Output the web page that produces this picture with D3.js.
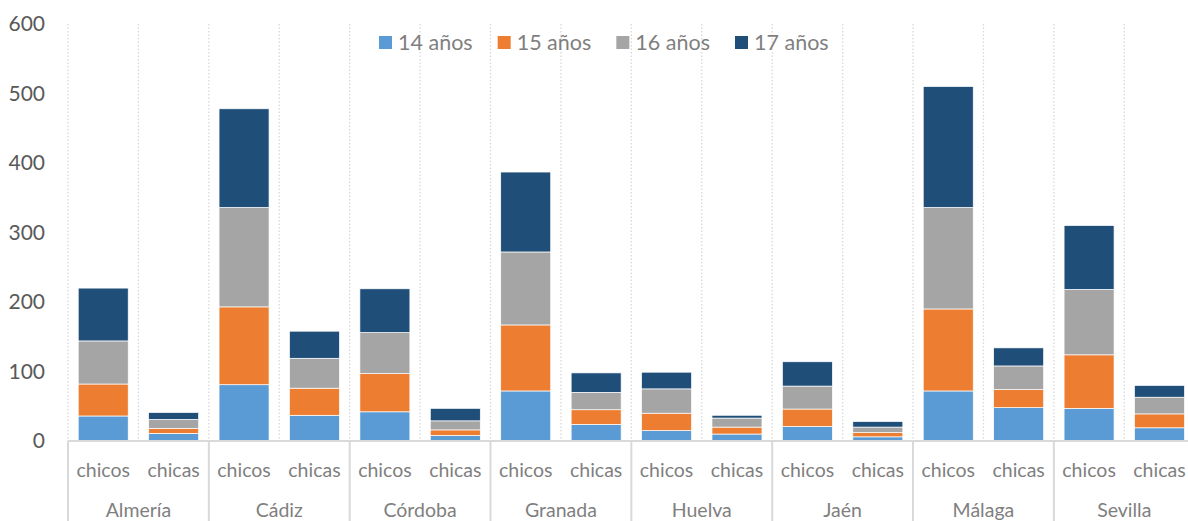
<!DOCTYPE html>
<html>
<head>
<meta charset="utf-8">
<script src="https://cdn.jsdelivr.net/npm/d3@7"></script>
<style>
  body { margin: 0; background: #fff; }
  svg { display: block; overflow: hidden; }
</style>
</head>
<body>
<div id="chart"></div>
<script>
// Data
const regions = ['Almería', 'Cádiz', 'Córdoba', 'Granada', 'Huelva', 'Jaén', 'Málaga', 'Sevilla'];
const sexes = ['chicos', 'chicas'];
const ages = ['14 años', '15 años', '16 años', '17 años'];
const yTicks = [0, 100, 200, 300, 400, 500, 600];

// one value per region x sex (chicos, chicas), in region order
const age14 = [36, 11, 81, 37, 42, 8, 72, 24, 15, 10, 21, 6, 72, 48, 47, 19];
const age15 = [46, 7, 112, 39, 55, 8, 95, 21, 25, 10, 25, 6, 118, 26, 77, 20];
const age16 = [62, 13, 143, 43, 59, 13, 105, 25, 35, 13, 33, 8, 146, 34, 94, 24];
const age17 = [76, 10, 142, 39, 63, 18, 115, 28, 24, 4, 35, 8, 174, 26, 92, 17];

const colors = ['#5B9BD5', '#ED7D31', '#A5A5A5', '#1F4E79'];

const W = 1188, H = 521;
const font = 'Lato, "Open Sans", sans-serif';

const svg = d3.select('#chart').append('svg')
    .attr('width', W).attr('height', H);

// build rows for the stack
const slots = [];
regions.forEach(r => sexes.forEach(s => slots.push(r + '|' + s)));
const rows = slots.map((k, i) => ({
    key: k,
    '14 años': age14[i], '15 años': age15[i], '16 años': age16[i], '17 años': age17[i]
}));

// scales
const x0 = 68, x1 = 1194.7;
const x = d3.scaleBand().domain(slots).range([x0, x1]).paddingInner(0.29).paddingOuter(0.145);
const xRegion = d3.scaleBand().domain(regions).range([x0, x1]);
const y = d3.scaleLinear().domain([0, 600]).range([441, 24]);

// vertical dotted gridlines at each slot boundary
const step = x.step();
const bounds = d3.range(slots.length + 1).map(i => x0 + i * step);
svg.append('g').selectAll('line').data(bounds).join('line')
    .attr('x1', d => d).attr('x2', d => d)
    .attr('y1', y(600)).attr('y2', y(0))
    .attr('stroke', '#d9d9d9').attr('stroke-width', 1.3)
    .attr('stroke-dasharray', '1.5,2');

// y axis
const yAxis = svg.append('g')
    .attr('transform', 'translate(45,0)')
    .call(d3.axisLeft(y).tickValues(yTicks).tickSize(0).tickPadding(0));
yAxis.select('.domain').remove();
yAxis.selectAll('text')
    .attr('font-family', font).attr('font-size', '21px').attr('fill', '#595959');

// stacked bars
const stack = d3.stack().keys(ages);
const series = stack(rows);
svg.append('g').selectAll('g').data(series).join('g')
    .attr('fill', (d, i) => colors[i])
    .selectAll('rect').data(d => d).join('rect')
    .attr('x', d => x(d.data.key))
    .attr('width', x.bandwidth())
    .attr('y', d => y(d[1]))
    .attr('height', d => y(d[0]) - y(d[1]))
    .attr('stroke', '#ffffff').attr('stroke-width', 0.7);

// category axis line + group separators
svg.append('line')
    .attr('x1', x0).attr('x2', x1)
    .attr('y1', y(0)).attr('y2', y(0))
    .attr('stroke', '#d9d9d9').attr('stroke-width', 2);

svg.append('g').selectAll('line').data(regions).join('line')
    .attr('x1', d => xRegion(d)).attr('x2', d => xRegion(d))
    .attr('y1', y(0)).attr('y2', H)
    .attr('stroke', '#d9d9d9').attr('stroke-width', 2);

// sex labels
svg.append('g').selectAll('text').data(slots).join('text')
    .attr('x', d => x(d) + x.bandwidth() / 2)
    .attr('y', 477)
    .attr('text-anchor', 'middle')
    .attr('font-family', font).attr('font-size', '19.5px').attr('fill', '#7f7f7f')
    .text(d => d.split('|')[1]);

// region labels
svg.append('g').selectAll('text').data(regions).join('text')
    .attr('x', d => xRegion(d) + xRegion.bandwidth() / 2)
    .attr('y', 517)
    .attr('text-anchor', 'middle')
    .attr('font-family', font).attr('font-size', '19.5px').attr('fill', '#7f7f7f')
    .text(d => d);

// legend
const legendX = d3.scalePoint().domain(ages).range([379, 735]);
const legend = svg.append('g').selectAll('g').data(ages).join('g')
    .attr('transform', d => `translate(${legendX(d)},0)`);
legend.append('rect')
    .attr('x', 0).attr('y', 36).attr('width', 13).attr('height', 13)
    .attr('fill', (d, i) => colors[i]);
legend.append('text')
    .attr('x', 19).attr('y', 49.5)
    .attr('font-family', font).attr('font-size', '21.5px').attr('fill', '#7f7f7f')
    .text(d => d);
</script>
</body>
</html>
